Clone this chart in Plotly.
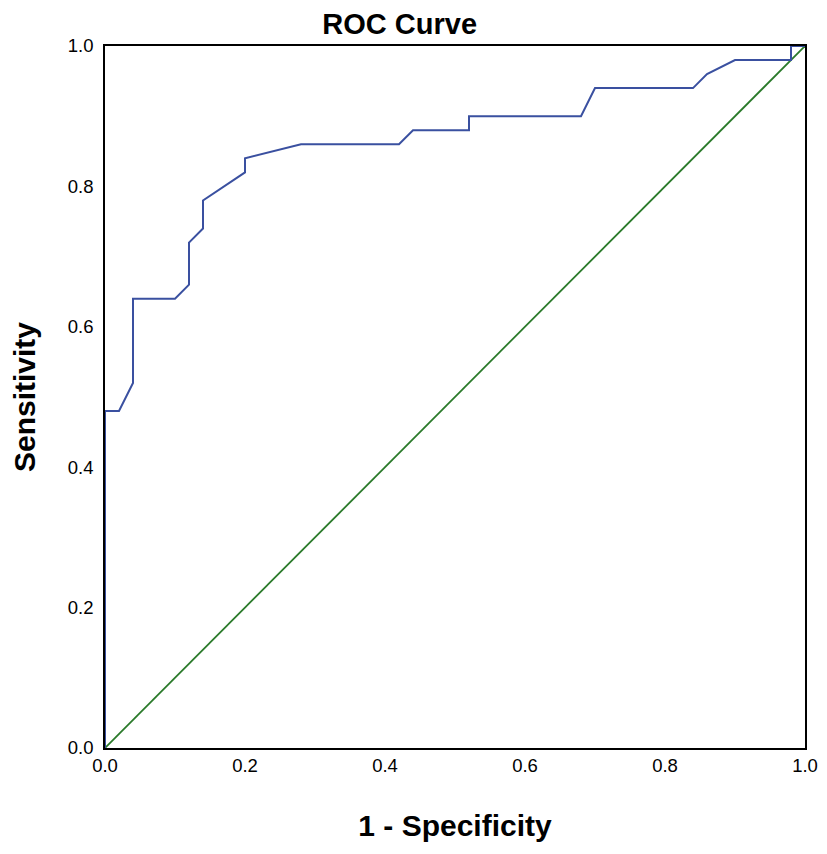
"""ROC curve with reference diagonal."""

import plotly.graph_objects as go

# ROC points
fpr = [0.00, 0.00, 0.02, 0.04, 0.04, 0.10, 0.12, 0.12, 0.14, 0.14, 0.20, 0.20,
       0.28, 0.42, 0.44, 0.52, 0.52, 0.68, 0.70, 0.84, 0.86, 0.90, 0.98, 0.98, 1.00]
tpr = [0.00, 0.48, 0.48, 0.52, 0.64, 0.64, 0.66, 0.72, 0.74, 0.78, 0.82, 0.84,
       0.86, 0.86, 0.88, 0.88, 0.90, 0.90, 0.94, 0.94, 0.96, 0.98, 0.98, 1.00, 1.00]

ref_x = [0.0, 1.0]
ref_y = [0.0, 1.0]

tick_vals = [0.0, 0.2, 0.4, 0.6, 0.8, 1.0]
tick_text = ["0.0", "0.2", "0.4", "0.6", "0.8", "1.0"]

FONT = "Liberation Sans, Arial, Helvetica, sans-serif"

# page body adds ~8px offset, so the figure is sized to fit inside the window
W, H = 811, 838

fig = go.Figure()

fig.add_trace(go.Scatter(x=ref_x, y=ref_y, mode="lines",
                         line=dict(color="#2a7a2a", width=1.8),
                         name="Reference Line"))
fig.add_trace(go.Scatter(x=fpr, y=tpr, mode="lines",
                         line=dict(color="#3a50a0", width=2),
                         name="ROC"))

axis_style = dict(
    range=[0, 1],
    tickvals=tick_vals,
    ticktext=tick_text,
    showgrid=False,
    zeroline=False,
    showline=True,
    mirror=True,
    linecolor="black",
    linewidth=1.5,
    ticks="",
    layer="below traces",
    automargin=False,
    tickfont=dict(family=FONT, size=18.5, color="black"),
)

fig.update_layout(
    width=W,
    height=H,
    margin=dict(l=97, r=14, t=38, b=98),
    paper_bgcolor="white",
    plot_bgcolor="white",
    showlegend=False,
    # the title sits a bit left of the plot centre in the original
    title=dict(text="<b>ROC Curve</b>", x=0.421, xref="paper", xanchor="center",
               y=1 - 16 / H, yref="container", yanchor="middle",
               font=dict(family=FONT, size=29, color="black")),
)

fig.update_xaxes(**axis_style,
                 title=dict(text="<b>1 - Specificity</b>", standoff=40,
                            font=dict(family=FONT, size=30, color="black")))
fig.update_yaxes(**axis_style, ticklabelstandoff=6,
                 title=dict(text="<b>Sensitivity</b>", standoff=28,
                            font=dict(family=FONT, size=30, color="black")))

fig.write_html("out.html")
